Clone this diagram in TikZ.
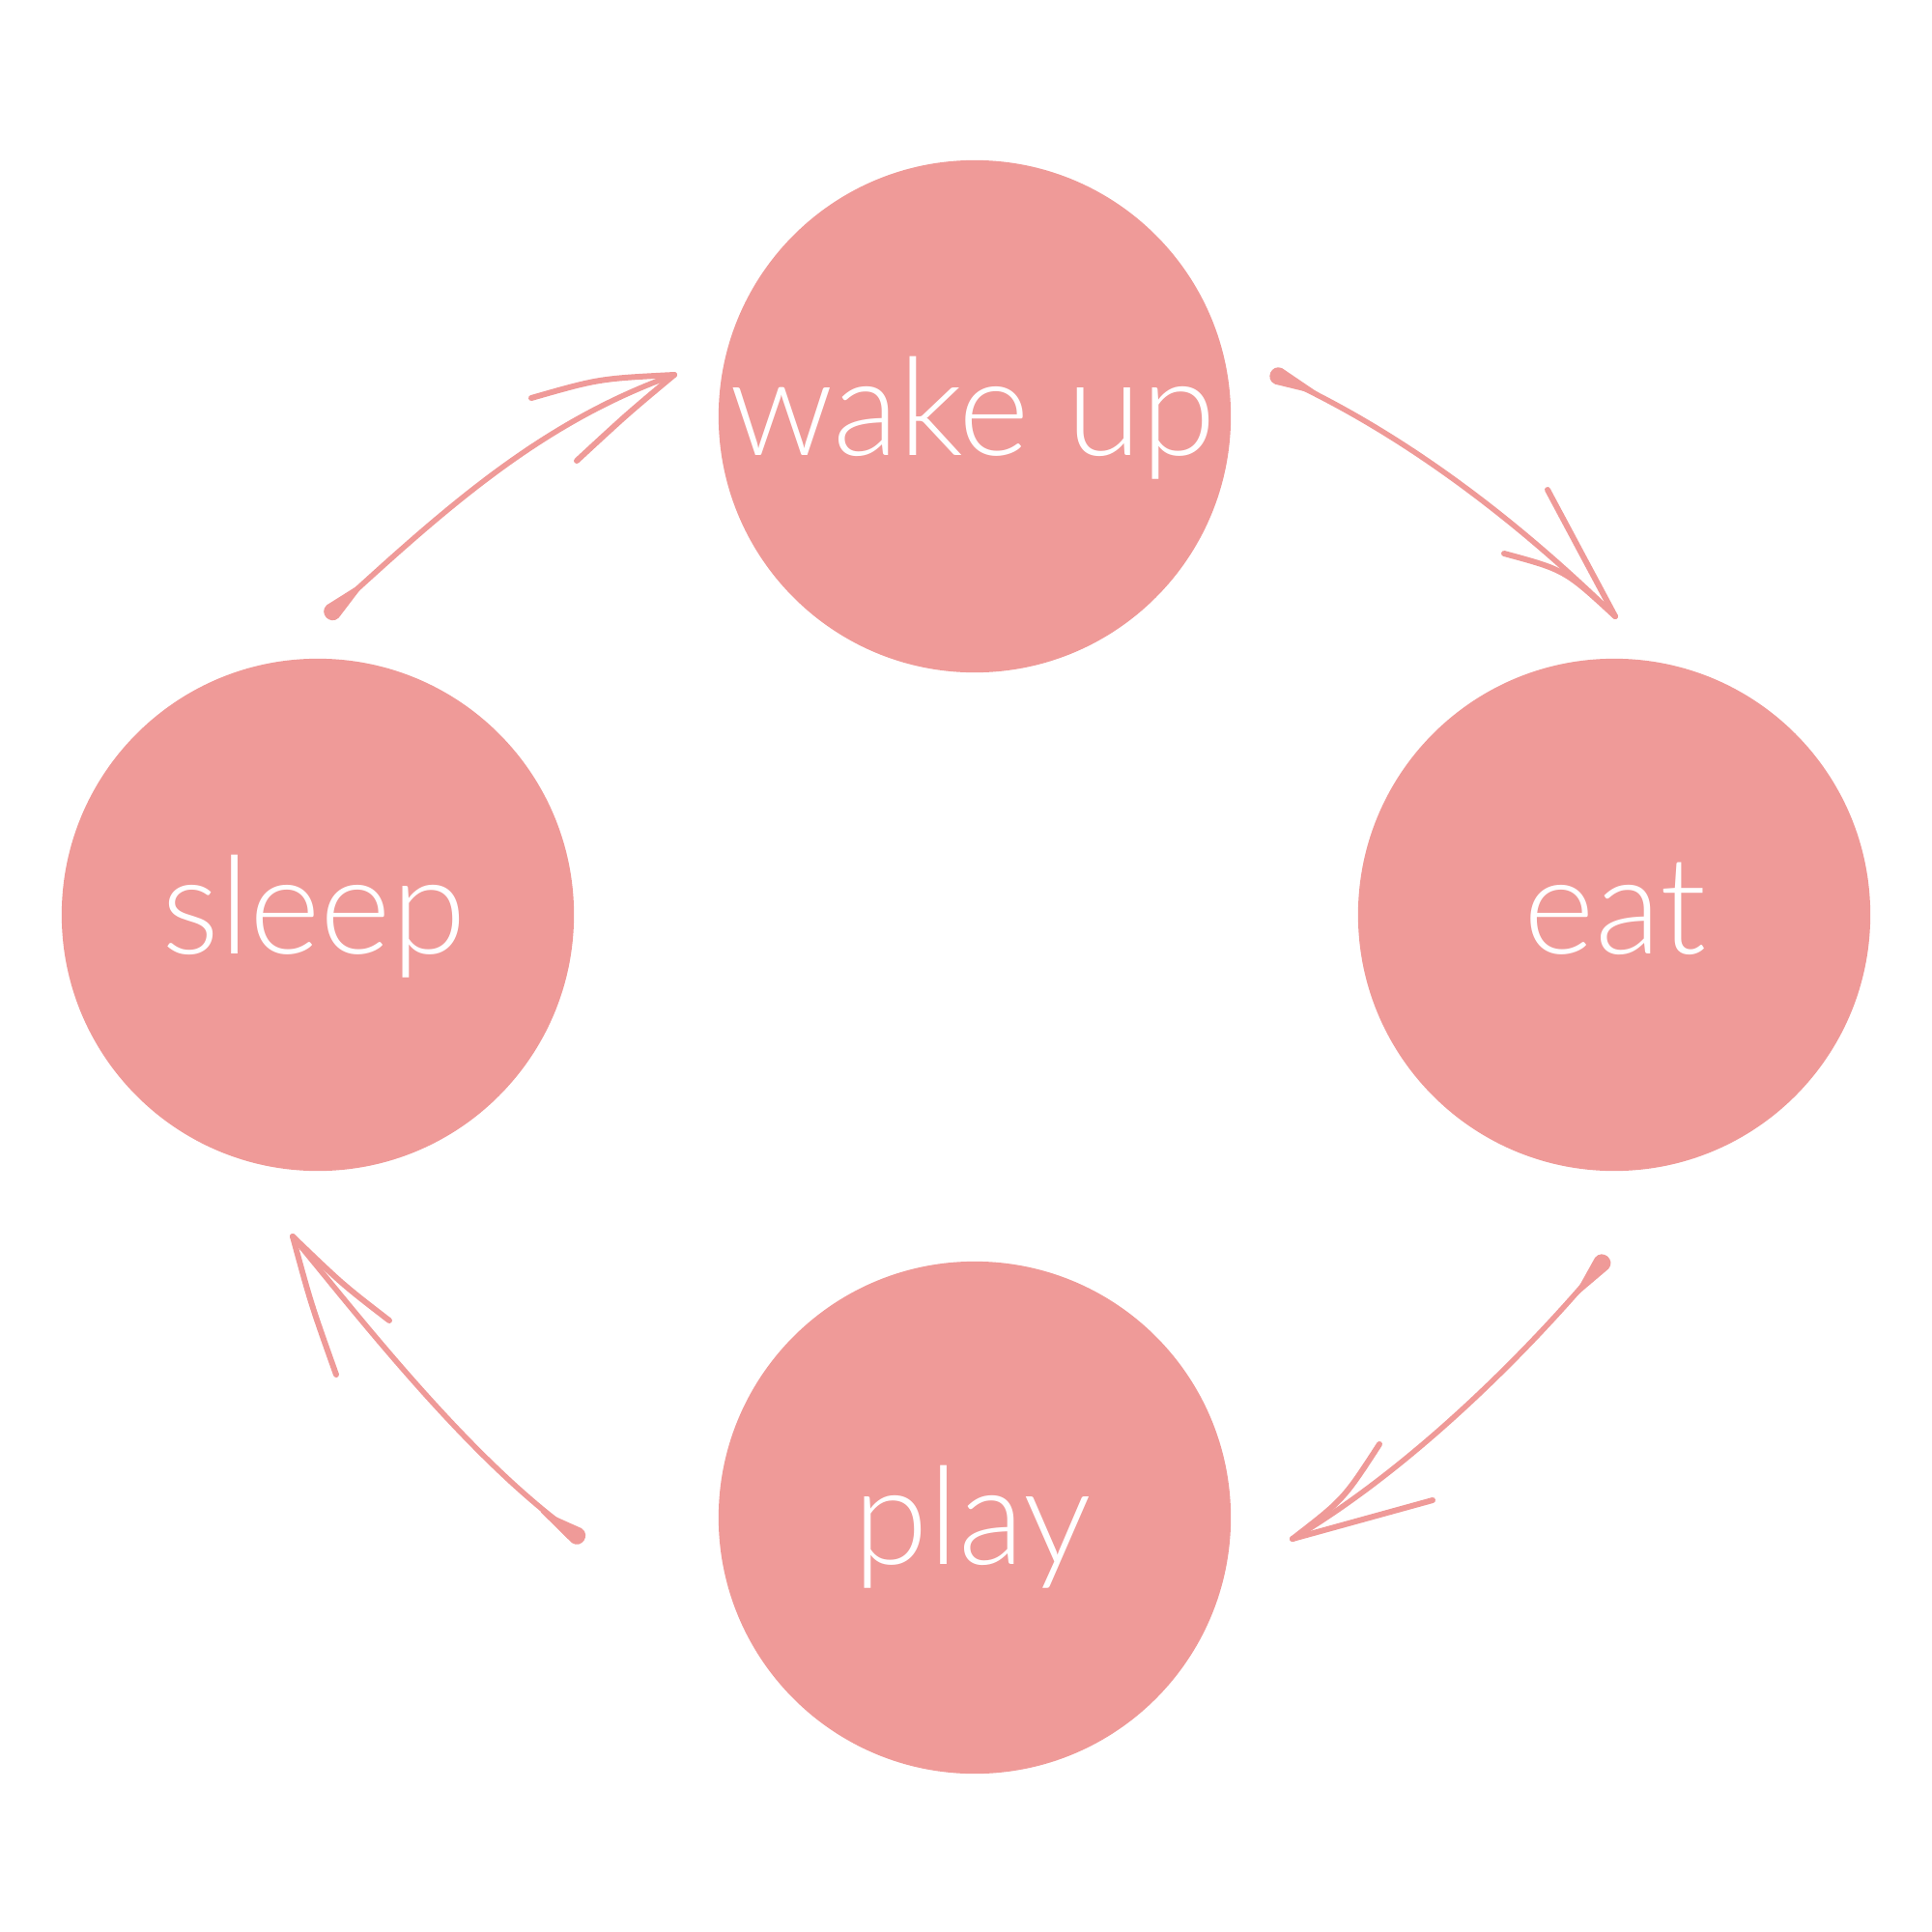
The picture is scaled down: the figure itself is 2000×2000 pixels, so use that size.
\documentclass[tikz,border=0pt]{standalone}
\usepackage{fontspec}
\IfFontExistsTF{Lato Light}{\setmainfont{Lato Light}}{\setmainfont{Lato}}
\usetikzlibrary{calc}
\definecolor{rose}{RGB}{239,154,152}
\begin{document}
\begin{tikzpicture}[x=0.01cm,y=-0.01cm,
  circ/.style={circle,fill=rose,draw=none,minimum size=5.3cm,inner sep=0pt},
  lbl/.style={text=white,font=\fontsize{40}{48}\selectfont,anchor=base,inner sep=0pt},
  shaft/.style={draw=rose,line width=1.6pt,line cap=round},
  blob/.style={fill=rose,draw=rose,line width=0.6pt,line join=round},
  barb/.style={draw=rose,line width=1.7pt,line cap=round}]
\useasboundingbox (0,0) rectangle (2000,2000);
% circles
\node[circ] (wake)  at (1009,431)  {};
\node[circ] (eat)   at (1671,947)  {};
\node[circ] (play)  at (1009,1571) {};
\node[circ] (sleep) at (329,947)   {};
% labels
\node[lbl] (wakeT)  at ($(wake)+(-2,40)$)  {wake up};
\node[lbl] (eatT)   at ($(eat)+(1,40)$)    {eat};
\node[lbl] (playT)  at ($(play)+(-2,48)$)  {play};
\node[lbl] (sleepT) at ($(sleep)+(-4,40)$) {sleep};
% arrow end points and controls
\coordinate (a1s) at (340,637);  \coordinate (a1c) at (460,527);  \coordinate (a1d) at (558,438);  \coordinate (a1t) at (698,388);
\coordinate (a2s) at (1318,387); \coordinate (a2c) at (1460,450); \coordinate (a2d) at (1582,550); \coordinate (a2t) at (1672,638);
\coordinate (a3s) at (1662,1303);\coordinate (a3c) at (1592,1388);\coordinate (a3d) at (1468,1516);\coordinate (a3t) at (1338,1593);
\coordinate (a4s) at (602,1593); \coordinate (a4c) at (492,1518); \coordinate (a4d) at (373,1365); \coordinate (a4t) at (303,1280);
% shafts
\draw[shaft] (a1s) .. controls (a1c) and (a1d) .. (a1t);
\draw[shaft] (a2s) .. controls (a2c) and (a2d) .. (a2t);
\draw[shaft] (a3s) .. controls (a3c) and (a3d) .. (a3t);
\draw[shaft] (a4s) .. controls (a4c) and (a4d) .. (a4t);
% tapered thick starts
\path[blob] (376.9,603.3) -- (349.8,638.9) .. controls (341.9,646.1) and (331.1,634.3) .. (339.0,627.1) -- cycle;
\path[blob] (1363.8,407.3) -- (1320.3,396.7) .. controls (1310.5,392.4) and (1316.9,377.8) .. (1326.7,382.1) -- cycle;
\path[blob] (1630.2,1341.7) -- (1652.0,1302.5) .. controls (1658.8,1294.2) and (1671.2,1304.4) .. (1664.4,1312.7) -- cycle;
\path[blob] (560.7,1564.8) -- (601.5,1583.0) .. controls (610.3,1589.0) and (601.3,1602.2) .. (592.5,1596.2) -- cycle;
% arrowheads
\draw[barb] (a1t) .. controls (620,392) .. (550,412);
\draw[barb] (a1t) .. controls (650,428) .. (597,477);
\draw[barb] (a2t) .. controls (1620,590) .. (1557,573);
\draw[barb] (a2t) .. controls (1637,572) .. (1602,507);
\draw[barb] (a3t) .. controls (1391,1552) .. (1428,1495);
\draw[barb] (a3t) .. controls (1410,1573) .. (1483,1553);
\draw[barb] (a4t) .. controls (355,1330) .. (403,1367);
\draw[barb] (a4t) .. controls (322,1350) .. (348,1423);
\end{tikzpicture}
\end{document}
